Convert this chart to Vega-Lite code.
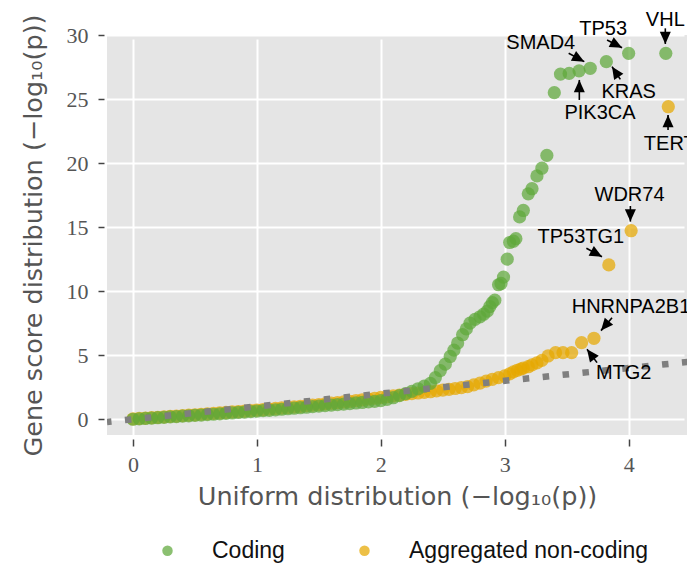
{
  "$schema": "https://vega.github.io/schema/vega-lite/v6.json",
  "autosize": "none",
  "width": 580,
  "height": 400,
  "padding": {"left": 107, "top": 35, "right": 0, "bottom": 128},
  "background": "white",
  "datasets": {
    "pts": [
      {"group": "Aggregated non-coding", "x": 0.00, "y": 0.03},
      {"group": "Aggregated non-coding", "x": 0.05, "y": 0.06},
      {"group": "Aggregated non-coding", "x": 0.10, "y": 0.09},
      {"group": "Aggregated non-coding", "x": 0.15, "y": 0.12},
      {"group": "Aggregated non-coding", "x": 0.20, "y": 0.15},
      {"group": "Aggregated non-coding", "x": 0.25, "y": 0.19},
      {"group": "Aggregated non-coding", "x": 0.30, "y": 0.22},
      {"group": "Aggregated non-coding", "x": 0.35, "y": 0.25},
      {"group": "Aggregated non-coding", "x": 0.40, "y": 0.28},
      {"group": "Aggregated non-coding", "x": 0.45, "y": 0.32},
      {"group": "Aggregated non-coding", "x": 0.50, "y": 0.35},
      {"group": "Aggregated non-coding", "x": 0.55, "y": 0.39},
      {"group": "Aggregated non-coding", "x": 0.60, "y": 0.42},
      {"group": "Aggregated non-coding", "x": 0.65, "y": 0.46},
      {"group": "Aggregated non-coding", "x": 0.70, "y": 0.49},
      {"group": "Aggregated non-coding", "x": 0.75, "y": 0.53},
      {"group": "Aggregated non-coding", "x": 0.80, "y": 0.57},
      {"group": "Aggregated non-coding", "x": 0.85, "y": 0.60},
      {"group": "Aggregated non-coding", "x": 0.90, "y": 0.64},
      {"group": "Aggregated non-coding", "x": 0.95, "y": 0.68},
      {"group": "Aggregated non-coding", "x": 1.00, "y": 0.72},
      {"group": "Aggregated non-coding", "x": 1.05, "y": 0.76},
      {"group": "Aggregated non-coding", "x": 1.10, "y": 0.80},
      {"group": "Aggregated non-coding", "x": 1.15, "y": 0.84},
      {"group": "Aggregated non-coding", "x": 1.20, "y": 0.88},
      {"group": "Aggregated non-coding", "x": 1.25, "y": 0.92},
      {"group": "Aggregated non-coding", "x": 1.30, "y": 0.97},
      {"group": "Aggregated non-coding", "x": 1.35, "y": 1.01},
      {"group": "Aggregated non-coding", "x": 1.40, "y": 1.06},
      {"group": "Aggregated non-coding", "x": 1.45, "y": 1.10},
      {"group": "Aggregated non-coding", "x": 1.50, "y": 1.15},
      {"group": "Aggregated non-coding", "x": 1.55, "y": 1.20},
      {"group": "Aggregated non-coding", "x": 1.60, "y": 1.25},
      {"group": "Aggregated non-coding", "x": 1.65, "y": 1.30},
      {"group": "Aggregated non-coding", "x": 1.70, "y": 1.35},
      {"group": "Aggregated non-coding", "x": 1.75, "y": 1.40},
      {"group": "Aggregated non-coding", "x": 1.80, "y": 1.46},
      {"group": "Aggregated non-coding", "x": 1.85, "y": 1.52},
      {"group": "Aggregated non-coding", "x": 1.90, "y": 1.58},
      {"group": "Aggregated non-coding", "x": 1.95, "y": 1.64},
      {"group": "Aggregated non-coding", "x": 2.00, "y": 1.70},
      {"group": "Aggregated non-coding", "x": 2.05, "y": 1.76},
      {"group": "Aggregated non-coding", "x": 2.10, "y": 1.83},
      {"group": "Aggregated non-coding", "x": 2.15, "y": 1.89},
      {"group": "Aggregated non-coding", "x": 2.20, "y": 1.95},
      {"group": "Aggregated non-coding", "x": 2.25, "y": 2.00},
      {"group": "Aggregated non-coding", "x": 2.30, "y": 2.05},
      {"group": "Aggregated non-coding", "x": 2.35, "y": 2.10},
      {"group": "Aggregated non-coding", "x": 2.40, "y": 2.15},
      {"group": "Aggregated non-coding", "x": 2.45, "y": 2.22},
      {"group": "Aggregated non-coding", "x": 2.50, "y": 2.28},
      {"group": "Aggregated non-coding", "x": 2.55, "y": 2.34},
      {"group": "Aggregated non-coding", "x": 2.60, "y": 2.40},
      {"group": "Aggregated non-coding", "x": 2.65, "y": 2.47},
      {"group": "Aggregated non-coding", "x": 2.70, "y": 2.55},
      {"group": "Aggregated non-coding", "x": 2.75, "y": 2.68},
      {"group": "Aggregated non-coding", "x": 2.80, "y": 2.82},
      {"group": "Aggregated non-coding", "x": 2.85, "y": 2.98},
      {"group": "Aggregated non-coding", "x": 2.90, "y": 3.12},
      {"group": "Aggregated non-coding", "x": 2.95, "y": 3.25},
      {"group": "Aggregated non-coding", "x": 3.00, "y": 3.38},
      {"group": "Aggregated non-coding", "x": 3.04, "y": 3.55},
      {"group": "Aggregated non-coding", "x": 3.07, "y": 3.70},
      {"group": "Aggregated non-coding", "x": 3.10, "y": 3.82},
      {"group": "Aggregated non-coding", "x": 3.13, "y": 3.92},
      {"group": "Aggregated non-coding", "x": 3.15, "y": 4.00},
      {"group": "Aggregated non-coding", "x": 3.19, "y": 4.10},
      {"group": "Aggregated non-coding", "x": 3.22, "y": 4.24},
      {"group": "Aggregated non-coding", "x": 3.26, "y": 4.40},
      {"group": "Aggregated non-coding", "x": 3.30, "y": 4.60},
      {"group": "Aggregated non-coding", "x": 3.35, "y": 4.94},
      {"group": "Aggregated non-coding", "x": 3.41, "y": 5.20},
      {"group": "Aggregated non-coding", "x": 3.47, "y": 5.20},
      {"group": "Aggregated non-coding", "x": 3.54, "y": 5.20},
      {"group": "Aggregated non-coding", "x": 3.62, "y": 5.98},
      {"group": "Aggregated non-coding", "x": 3.72, "y": 6.32},
      {"group": "Aggregated non-coding", "x": 3.84, "y": 12.05},
      {"group": "Aggregated non-coding", "x": 4.02, "y": 14.72},
      {"group": "Aggregated non-coding", "x": 4.32, "y": 24.40},
      {"group": "Coding", "x": 0.00, "y": 0.00},
      {"group": "Coding", "x": 0.05, "y": 0.03},
      {"group": "Coding", "x": 0.10, "y": 0.06},
      {"group": "Coding", "x": 0.15, "y": 0.09},
      {"group": "Coding", "x": 0.20, "y": 0.12},
      {"group": "Coding", "x": 0.25, "y": 0.15},
      {"group": "Coding", "x": 0.30, "y": 0.18},
      {"group": "Coding", "x": 0.35, "y": 0.21},
      {"group": "Coding", "x": 0.40, "y": 0.24},
      {"group": "Coding", "x": 0.45, "y": 0.27},
      {"group": "Coding", "x": 0.50, "y": 0.30},
      {"group": "Coding", "x": 0.55, "y": 0.33},
      {"group": "Coding", "x": 0.60, "y": 0.36},
      {"group": "Coding", "x": 0.65, "y": 0.39},
      {"group": "Coding", "x": 0.70, "y": 0.42},
      {"group": "Coding", "x": 0.75, "y": 0.46},
      {"group": "Coding", "x": 0.80, "y": 0.49},
      {"group": "Coding", "x": 0.85, "y": 0.53},
      {"group": "Coding", "x": 0.90, "y": 0.56},
      {"group": "Coding", "x": 0.95, "y": 0.60},
      {"group": "Coding", "x": 1.00, "y": 0.63},
      {"group": "Coding", "x": 1.05, "y": 0.67},
      {"group": "Coding", "x": 1.10, "y": 0.70},
      {"group": "Coding", "x": 1.15, "y": 0.74},
      {"group": "Coding", "x": 1.20, "y": 0.78},
      {"group": "Coding", "x": 1.25, "y": 0.82},
      {"group": "Coding", "x": 1.30, "y": 0.86},
      {"group": "Coding", "x": 1.35, "y": 0.90},
      {"group": "Coding", "x": 1.40, "y": 0.94},
      {"group": "Coding", "x": 1.45, "y": 0.98},
      {"group": "Coding", "x": 1.50, "y": 1.02},
      {"group": "Coding", "x": 1.55, "y": 1.06},
      {"group": "Coding", "x": 1.60, "y": 1.10},
      {"group": "Coding", "x": 1.65, "y": 1.14},
      {"group": "Coding", "x": 1.70, "y": 1.18},
      {"group": "Coding", "x": 1.75, "y": 1.22},
      {"group": "Coding", "x": 1.80, "y": 1.27},
      {"group": "Coding", "x": 1.85, "y": 1.31},
      {"group": "Coding", "x": 1.90, "y": 1.36},
      {"group": "Coding", "x": 1.95, "y": 1.40},
      {"group": "Coding", "x": 2.00, "y": 1.45},
      {"group": "Coding", "x": 2.05, "y": 1.55},
      {"group": "Coding", "x": 2.10, "y": 1.68},
      {"group": "Coding", "x": 2.15, "y": 1.84},
      {"group": "Coding", "x": 2.20, "y": 2.00},
      {"group": "Coding", "x": 2.25, "y": 2.18},
      {"group": "Coding", "x": 2.30, "y": 2.38},
      {"group": "Coding", "x": 2.35, "y": 2.58},
      {"group": "Coding", "x": 2.40, "y": 2.80},
      {"group": "Coding", "x": 2.44, "y": 3.25},
      {"group": "Coding", "x": 2.48, "y": 3.80},
      {"group": "Coding", "x": 2.52, "y": 4.30},
      {"group": "Coding", "x": 2.56, "y": 4.90},
      {"group": "Coding", "x": 2.59, "y": 5.40},
      {"group": "Coding", "x": 2.62, "y": 5.95},
      {"group": "Coding", "x": 2.66, "y": 6.60},
      {"group": "Coding", "x": 2.69, "y": 7.05},
      {"group": "Coding", "x": 2.72, "y": 7.50},
      {"group": "Coding", "x": 2.76, "y": 7.80},
      {"group": "Coding", "x": 2.80, "y": 8.00},
      {"group": "Coding", "x": 2.83, "y": 8.20},
      {"group": "Coding", "x": 2.86, "y": 8.45},
      {"group": "Coding", "x": 2.88, "y": 8.80},
      {"group": "Coding", "x": 2.90, "y": 9.10},
      {"group": "Coding", "x": 2.92, "y": 9.30},
      {"group": "Coding", "x": 2.95, "y": 10.50},
      {"group": "Coding", "x": 2.97, "y": 10.60},
      {"group": "Coding", "x": 2.99, "y": 11.10},
      {"group": "Coding", "x": 3.02, "y": 12.50},
      {"group": "Coding", "x": 3.04, "y": 13.80},
      {"group": "Coding", "x": 3.07, "y": 13.90},
      {"group": "Coding", "x": 3.09, "y": 14.10},
      {"group": "Coding", "x": 3.12, "y": 15.80},
      {"group": "Coding", "x": 3.15, "y": 16.30},
      {"group": "Coding", "x": 3.19, "y": 17.60},
      {"group": "Coding", "x": 3.22, "y": 18.00},
      {"group": "Coding", "x": 3.26, "y": 19.00},
      {"group": "Coding", "x": 3.30, "y": 19.60},
      {"group": "Coding", "x": 3.34, "y": 20.60},
      {"group": "Coding", "x": 3.40, "y": 25.50},
      {"group": "Coding", "x": 3.45, "y": 26.95},
      {"group": "Coding", "x": 3.52, "y": 27.00},
      {"group": "Coding", "x": 3.60, "y": 27.20},
      {"group": "Coding", "x": 3.69, "y": 27.40},
      {"group": "Coding", "x": 3.82, "y": 27.92},
      {"group": "Coding", "x": 4.00, "y": 28.57},
      {"group": "Coding", "x": 4.30, "y": 28.57}
    ],
    "ref": [
      {"x": -0.21, "y": -0.21},
      {"x": 4.8, "y": 4.8}
    ],
    "labels": [
      {"label": "SMAD4", "x": 3.291, "y": 29.37},
      {"label": "TP53", "x": 3.794, "y": 30.48},
      {"label": "VHL", "x": 4.296, "y": 31.17},
      {"label": "KRAS", "x": 4.0, "y": 25.53},
      {"label": "PIK3CA", "x": 3.769, "y": 23.91},
      {"label": "TERT", "x": 4.332, "y": 21.48},
      {"label": "WDR74", "x": 4.007, "y": 17.51},
      {"label": "TP53TG1", "x": 3.614, "y": 14.22},
      {"label": "HNRNPA2B1", "x": 4.019, "y": 8.75},
      {"label": "MTG2", "x": 3.96, "y": 3.63}
    ],
    "arrows": [
      {"gene": "SMAD4", "x": 3.516, "y": 28.57, "x2": 3.642, "y2": 27.92},
      {"gene": "TP53", "x": 3.826, "y": 29.61, "x2": 3.947, "y2": 29.01},
      {"gene": "VHL", "x": 4.296, "y": 30.52, "x2": 4.296, "y2": 29.30},
      {"gene": "KRAS", "x": 3.933, "y": 26.54, "x2": 3.866, "y2": 27.53},
      {"gene": "PIK3CA", "x": 3.602, "y": 24.93, "x2": 3.602, "y2": 26.49},
      {"gene": "TERT", "x": 4.318, "y": 22.58, "x2": 4.318, "y2": 23.75},
      {"gene": "WDR74", "x": 4.014, "y": 16.65, "x2": 4.014, "y2": 15.43},
      {"gene": "TP53TG1", "x": 3.659, "y": 13.35, "x2": 3.785, "y2": 12.69},
      {"gene": "HNRNPA2B1", "x": 3.866, "y": 7.93, "x2": 3.777, "y2": 6.92},
      {"gene": "MTG2", "x": 3.745, "y": 4.42, "x2": 3.664, "y2": 5.46}
    ]
  },
  "layer": [
    {
      "data": {"name": "pts"},
      "mark": {"type": "circle", "size": 175, "opacity": 0.72, "strokeWidth": 0},
      "encoding": {
        "x": {"field": "x", "type": "quantitative",
              "scale": {"domain": [-0.21, 4.471], "nice": false, "zero": false},
              "axis": {"title": "Uniform distribution (−log₁₀(p))", "values": [0, 1, 2, 3, 4], "format": "d"}},
        "y": {"field": "y", "type": "quantitative",
              "scale": {"domain": [-1.23, 30], "nice": false, "zero": false},
              "axis": {"title": "Gene score distribution (−log₁₀(p))", "values": [0, 5, 10, 15, 20, 25, 30], "format": "d"}},
        "color": {"field": "group", "type": "nominal",
                  "scale": {"domain": ["Coding", "Aggregated non-coding"], "range": ["#5ea83a", "#e6a800"]},
                  "legend": {"orient": "none", "legendX": 49, "legendY": 504, "direction": "horizontal", "title": null}},
        "order": {"field": "group", "sort": "ascending"}
      }
    },
    {
      "data": {"name": "ref"},
      "mark": {"type": "line", "color": "#7f7f7f", "strokeWidth": 6.5, "strokeDash": [6.5, 13.5], "strokeDashOffset": 2, "strokeCap": "butt", "clip": true},
      "encoding": {
        "x": {"field": "x", "type": "quantitative", "scale": {"domain": [-0.21, 4.471], "nice": false, "zero": false}},
        "y": {"field": "y", "type": "quantitative", "scale": {"domain": [-1.23, 30], "nice": false, "zero": false}}
      }
    },
    {
      "data": {"name": "arrows"},
      "mark": {"type": "rule", "color": "black", "strokeWidth": 1.6},
      "encoding": {
        "x": {"field": "x", "type": "quantitative", "scale": {"domain": [-0.21, 4.471], "nice": false, "zero": false}},
        "y": {"field": "y", "type": "quantitative", "scale": {"domain": [-1.23, 30], "nice": false, "zero": false}},
        "x2": {"field": "x2"},
        "y2": {"field": "y2"}
      }
    },
    {
      "data": {"name": "arrows"},
      "transform": [
        {"calculate": "atan2((datum.x2 - datum.x) * 123.9, (datum.y2 - datum.y) * 12.81) * 180 / PI", "as": "ang"}
      ],
      "mark": {"type": "point", "shape": "M0,0L-0.45,1L0.45,1Z", "filled": true, "color": "black", "opacity": 1, "size": 600, "strokeWidth": 0},
      "encoding": {
        "x": {"field": "x2", "type": "quantitative", "scale": {"domain": [-0.21, 4.471], "nice": false, "zero": false}},
        "y": {"field": "y2", "type": "quantitative", "scale": {"domain": [-1.23, 30], "nice": false, "zero": false}},
        "angle": {"field": "ang", "type": "quantitative", "scale": null}
      }
    },
    {
      "data": {"name": "labels"},
      "mark": {"type": "text", "font": "Liberation Sans", "fontSize": 20, "color": "black", "align": "center", "baseline": "middle"},
      "encoding": {
        "x": {"field": "x", "type": "quantitative", "scale": {"domain": [-0.21, 4.471], "nice": false, "zero": false}},
        "y": {"field": "y", "type": "quantitative", "scale": {"domain": [-1.23, 30], "nice": false, "zero": false}},
        "text": {"field": "label"}
      }
    }
  ],
  "config": {
    "view": {"fill": "#e5e5e5", "stroke": null},
    "axis": {
      "grid": true, "gridColor": "white", "gridWidth": 2, "domain": false,
      "tickColor": "#444444", "tickWidth": 1.5,
      "labelFont": "Liberation Serif", "labelFontSize": 22, "labelColor": "#555555",
      "titleFont": "DejaVu Sans", "titleFontSize": 25.5, "titleFontWeight": "normal", "titleColor": "#555555"
    },
    "axisX": {"offset": 4, "tickSize": 7, "labelPadding": 8, "titlePadding": 9},
    "axisY": {"offset": 3, "tickSize": 6, "labelPadding": 10, "titlePadding": 20},
    "legend": {
      "symbolType": "circle", "symbolSize": 110, "symbolOpacity": 0.72, "symbolStrokeWidth": 0,
      "labelFont": "Liberation Sans", "labelFontSize": 23, "labelColor": "#111111", "labelLimit": 400,
      "labelOffset": 33, "columnPadding": 68, "padding": 0
    }
  }
}
